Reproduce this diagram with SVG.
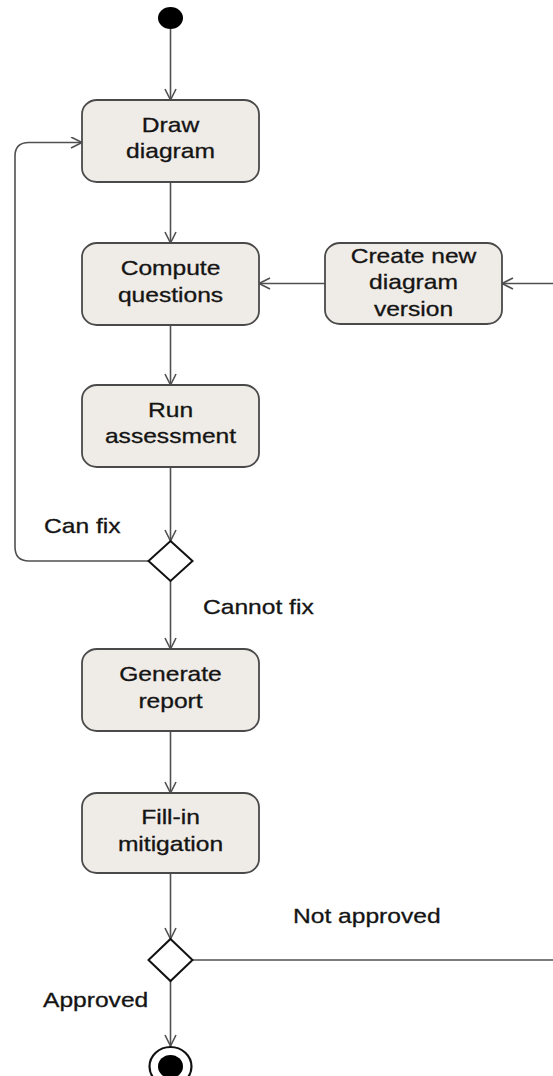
<svg xmlns="http://www.w3.org/2000/svg" width="553" height="1076" viewBox="0 0 553 1076">
  <style>
    .action { fill: #efebe6; stroke: #4a4a4a; stroke-width: 1.8; }
    .decision { fill: #ffffff; stroke: #111111; stroke-width: 2; }
    .flow { fill: none; stroke: #505050; stroke-width: 1.6; }
    .label { font-family: "Liberation Sans", Arial, sans-serif; font-size: 20.5px; fill: #141414; stroke: #141414; stroke-width: 0.3; }
    .center { text-anchor: middle; }
  </style>
  <defs>
    <marker id="arrow" markerUnits="userSpaceOnUse" markerWidth="14" markerHeight="14" refX="12" refY="6" orient="auto">
      <path d="M1,0.5 L12,6 L1,11.5" fill="none" stroke="#505050" stroke-width="1.6"/>
    </marker>
  </defs>

  <!-- control flows -->
  <g id="connectors">
    <line class="flow" x1="170.5" y1="29" x2="170.5" y2="100" marker-end="url(#arrow)"/>
    <line class="flow" x1="170.5" y1="182" x2="170.5" y2="243" marker-end="url(#arrow)"/>
    <line class="flow" x1="170.5" y1="325" x2="170.5" y2="385" marker-end="url(#arrow)"/>
    <line class="flow" x1="170.5" y1="467" x2="170.5" y2="541" marker-end="url(#arrow)"/>
    <line class="flow" x1="170.5" y1="581" x2="170.5" y2="649" marker-end="url(#arrow)"/>
    <line class="flow" x1="170.5" y1="731" x2="170.5" y2="793" marker-end="url(#arrow)"/>
    <line class="flow" x1="170.5" y1="873" x2="170.5" y2="939" marker-end="url(#arrow)"/>
    <line class="flow" x1="170.5" y1="981" x2="170.5" y2="1046" marker-end="url(#arrow)"/>
    <!-- Can fix: back to Draw diagram -->
    <path class="flow" d="M148.5,561 H29 Q15,561 15,547 V156 Q15,142.5 29,142.5 H82" marker-end="url(#arrow)"/>
    <!-- new version feeds Compute questions -->
    <line class="flow" x1="325" y1="283.5" x2="259" y2="283.5" marker-end="url(#arrow)"/>
    <!-- Not approved: leaves to the right, returns into Create new diagram version -->
    <line class="flow" x1="192.5" y1="960" x2="553" y2="960"/>
    <line class="flow" x1="553" y1="283.5" x2="502" y2="283.5" marker-end="url(#arrow)"/>
  </g>

  <g id="start">
    <ellipse cx="170.5" cy="18" rx="12.5" ry="11" fill="#000000"/>
  </g>

  <g id="draw-diagram">
    <rect class="action" x="82" y="100" width="177" height="82" rx="15" ry="14"/>
    <text class="label center" transform="translate(170.5 131.5) scale(1.2 1)"><tspan x="0">Draw</tspan><tspan x="0" dy="27">diagram</tspan></text>
  </g>

  <g id="compute-questions">
    <rect class="action" x="82" y="243" width="177" height="82" rx="15" ry="14"/>
    <text class="label center" transform="translate(170.5 274.5) scale(1.2 1)"><tspan x="0">Compute</tspan><tspan x="0" dy="28">questions</tspan></text>
  </g>

  <g id="create-new-version">
    <rect class="action" x="325" y="243" width="177" height="81" rx="15" ry="14"/>
    <text class="label center" transform="translate(413.5 263) scale(1.2 1)"><tspan x="0">Create new</tspan><tspan x="0" dy="26.5">diagram</tspan><tspan x="0" dy="26.5">version</tspan></text>
  </g>

  <g id="run-assessment">
    <rect class="action" x="82" y="385" width="177" height="82" rx="15" ry="14"/>
    <text class="label center" transform="translate(170.5 417) scale(1.2 1)"><tspan x="0">Run</tspan><tspan x="0" dy="26.5">assessment</tspan></text>
  </g>

  <g id="decision-fix">
    <polygon class="decision" points="170.5,541 192.5,561 170.5,581 148.5,561"/>
  </g>
  <text id="label-can-fix" class="label" transform="translate(44 533) scale(1.2 1)">Can fix</text>
  <text id="label-cannot-fix" class="label" transform="translate(203 614) scale(1.2 1)">Cannot fix</text>

  <g id="generate-report">
    <rect class="action" x="82" y="649" width="177" height="82" rx="15" ry="14"/>
    <text class="label center" transform="translate(170.5 680.5) scale(1.2 1)"><tspan x="0">Generate</tspan><tspan x="0" dy="27.5">report</tspan></text>
  </g>

  <g id="fill-in-mitigation">
    <rect class="action" x="82" y="793" width="177" height="80" rx="15" ry="14"/>
    <text class="label center" transform="translate(170.5 824) scale(1.2 1)"><tspan x="0">Fill-in</tspan><tspan x="0" dy="27.5">mitigation</tspan></text>
  </g>

  <g id="decision-approval">
    <polygon class="decision" points="170.5,939 192.5,960 170.5,981 148.5,960"/>
  </g>
  <text id="label-not-approved" class="label" transform="translate(293 923) scale(1.2 1)">Not approved</text>
  <text id="label-approved" class="label" transform="translate(43 1007) scale(1.2 1)">Approved</text>

  <g id="end">
    <ellipse cx="170.5" cy="1066.5" rx="21" ry="19.5" fill="#ffffff" stroke="#111111" stroke-width="2.2"/>
    <ellipse cx="170.5" cy="1066.5" rx="12.5" ry="11.5" fill="#000000"/>
  </g>
</svg>
